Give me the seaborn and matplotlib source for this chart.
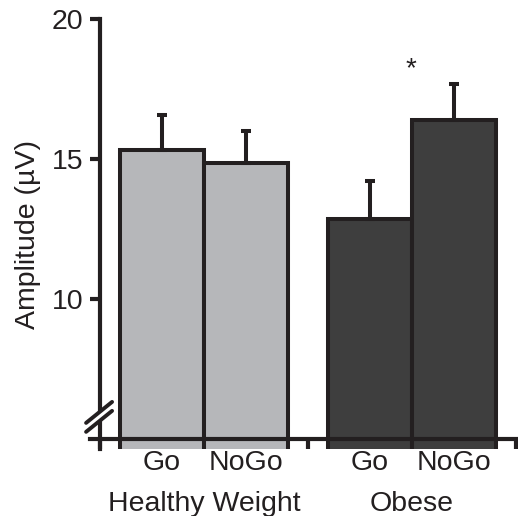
import matplotlib
matplotlib.use("Agg")
import matplotlib.pyplot as plt
import seaborn as sns
import pandas as pd
import numpy as np
from matplotlib.lines import Line2D

groups = ["Healthy Weight", "Healthy Weight", "Obese", "Obese"]
conditions = ["Go", "NoGo", "Go", "NoGo"]
means = [15.32, 14.87, 12.86, 16.39]
sems = [1.25, 1.13, 1.35, 1.29]
group_order = ["Healthy Weight", "Obese"]
cond_order = ["Go", "NoGo"]
group_colors = {"Healthy Weight": "#b6b7ba", "Obese": "#3e3e3e"}
yticks = [10, 15, 20]

df = pd.DataFrame({"group": groups, "condition": conditions, "amp": means, "sem": sems})

sns.set_theme(style="white")
plt.rcParams['font.family'] = ['Liberation Sans', 'DejaVu Sans']

FS = 20.5
fig = plt.figure(figsize=(5.18, 5.16), dpi=100)
ax = fig.add_axes([0.173, 0.130, 0.823, 0.833])

EDGE = "#231f20"
sns.barplot(data=df, x="group", y="amp", hue="condition", order=group_order,
            hue_order=cond_order, width=0.81, dodge=True, errorbar=None,
            ax=ax, legend=False, edgecolor=EDGE, linewidth=2.9)

for bar in ax.patches:
    cx = bar.get_x() + bar.get_width() / 2
    gi = int(round(cx))
    bar.set_facecolor(group_colors[group_order[gi]])
    bar.set_edgecolor(EDGE)

for _, row in df.iterrows():
    gi = group_order.index(row["group"])
    ci = cond_order.index(row["condition"])
    cx = gi + (ci - 0.5) * 0.405
    ax.errorbar([cx], [row["amp"]], yerr=[[0], [row["sem"]]], fmt="none",
                ecolor=EDGE, elinewidth=2.9, capsize=3.8, capthick=2.9, zorder=3)

ax.set_ylim(4.64, 20)
ax.set_xlim(-0.55, 1.5)

for s in ["top", "right"]:
    ax.spines[s].set_visible(False)
ax.spines["left"].set_position(("data", -0.5))
ax.spines["bottom"].set_position(("data", 5))
for s in ["left", "bottom"]:
    ax.spines[s].set_linewidth(3.0)
    ax.spines[s].set_color(EDGE)
ax.spines["bottom"].set_bounds(-0.55, 1.5)

ax.set_yticks(yticks)
ax.set_yticklabels([str(t) for t in yticks], fontsize=FS, color=EDGE)
ax.tick_params(axis="y", direction="out", length=7, width=3.0, color=EDGE, pad=5, left=True)

centers = [gi + (ci - 0.5) * 0.405 for gi in range(2) for ci in range(2)]
ax.set_xticks(centers)
ax.set_xticklabels([c for g in group_order for c in cond_order], fontsize=FS, color=EDGE)
ax.tick_params(axis="x", which="major", length=0, pad=8)
ax.set_xticks([-0.5, 0.5, 1.5], minor=True)
ax.tick_params(axis="x", which="minor", direction="out", length=7, width=3.0,
               color=EDGE, bottom=True)
ax.set_xlabel("")
ax.set_ylabel("Amplitude (µV)", fontsize=FS, color=EDGE, labelpad=8)

for gi, g in enumerate(group_order):
    ax.text(gi, -0.127, g, transform=ax.get_xaxis_transform(), ha="center",
            va="center", fontsize=FS, color=EDGE)

# asterisk above Obese
ax.text(1 - 0.005, 18.2, "*", ha="center", va="center", fontsize=20, color=EDGE)

# axis break marks
ax.add_line(Line2D([-0.555, -0.455], [5.41, 6.16], color="white", lw=4.5,
                   clip_on=False, zorder=5))
for y0, y1 in [(5.25, 6.0), (5.57, 6.32)]:
    ax.add_line(Line2D([-0.567, -0.442], [y0, y1], color=EDGE, lw=2.8,
                       clip_on=False, zorder=6))

fig.savefig("out.png", dpi=100)
